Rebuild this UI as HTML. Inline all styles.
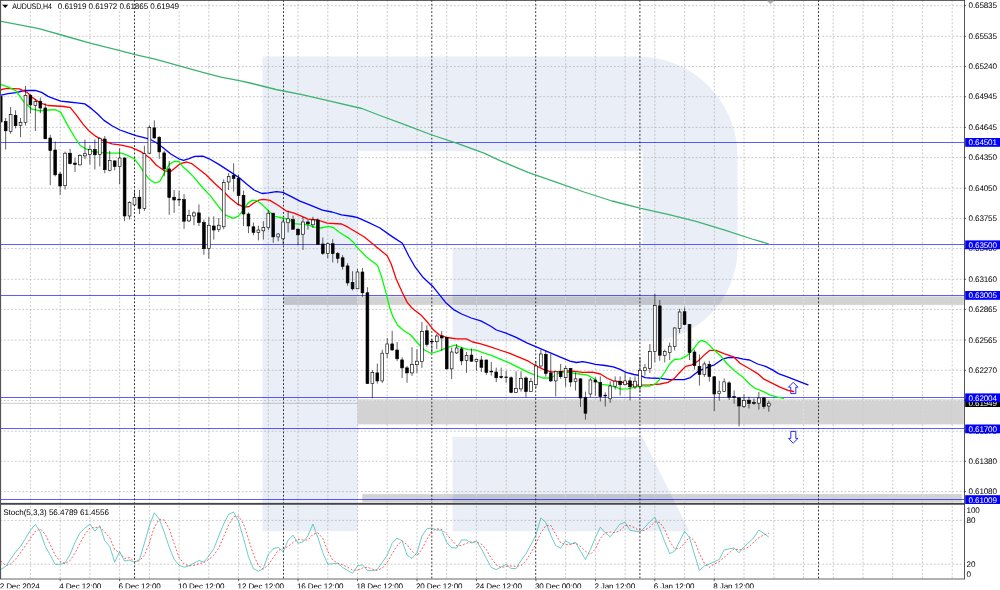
<!DOCTYPE html><html><head><meta charset="utf-8"><title>AUDUSD H4</title><style>
html,body{margin:0;padding:0;background:#fff;overflow:hidden}
svg{display:block;text-rendering:geometricPrecision;font-family:"Liberation Sans",sans-serif;font-size:8.1px;letter-spacing:-.15px}
.g{stroke:#acacac;stroke-width:.66;stroke-dasharray:1.86 1.86;fill:none}
.sp{stroke:#000;stroke-width:.8;stroke-dasharray:1.86 1.86;fill:none}
.hl{stroke:#0000ff;stroke-width:.64}
.w{stroke:#000;stroke-width:.62}
.bu{fill:#fff;stroke:#000;stroke-width:.62}
.be{fill:#000;stroke:#000;stroke-width:.62}
.ma{fill:none;stroke-width:1.3;stroke-linejoin:round;stroke-linecap:round}
.z{fill:#d3d3d3;mix-blend-mode:multiply}
.lb{fill:#0000ff}.lt{fill:#fff}
</style></head><body>
<svg width="1000" height="590" viewBox="0 0 1000 590">
<rect width="1000" height="590" fill="#fff"/>
<path fill="#eaeef6" d="M262.5,56.6H638A99.5,99.4 0 0 1 737.5,156V249A93.5,92.5 0 0 1 644,341.5H452.5V247.7H642.6V151.2H357.5V531.2H262.5Z"/>
<path fill="#eaeef6" d="M452.5,437H642.5L689.2,531.2H452.5Z"/>
<path class="g" d="M0,5.7H964.5M0,36.3H964.5M0,66.5H964.5M0,96.7H964.5M0,127.4H964.5M0,157.6H964.5M0,188.2H964.5M0,218.4H964.5M0,248.6H964.5M0,279.3H964.5M0,309.4H964.5M0,340.1H964.5M0,370.3H964.5M0,400.5H964.5M0,431.2H964.5M0,461.3H964.5M0,491.6H964.5M0,520.4H964.5M0,564.2H964.5M30.4,0V578.8M60.2,0V578.8M89.9,0V578.8M119.6,0V578.8M149.4,0V578.8M179.1,0V578.8M208.8,0V578.8M238.6,0V578.8M268.3,0V578.8M298.0,0V578.8M327.8,0V578.8M357.5,0V578.8M387.2,0V578.8M417.0,0V578.8M446.7,0V578.8M476.4,0V578.8M506.2,0V578.8M565.6,0V578.8M595.4,0V578.8M625.1,0V578.8M654.8,0V578.8M684.6,0V578.8M714.3,0V578.8M744.0,0V578.8M773.8,0V578.8M803.5,0V578.8M833.2,0V578.8M863.0,0V578.8M892.7,0V578.8M922.4,0V578.8M952.2,0V578.8"/>
<rect class="z" x="283.6" y="296.4" width="680.2" height="8.5"/>
<rect class="z" x="357.5" y="399.4" width="606.3" height="25"/>
<rect class="z" x="362.3" y="494.1" width="599.5" height="8.2"/>
<clipPath id="zc"><rect x="283.6" y="296.4" width="680.2" height="8.5"/><rect x="357.5" y="399.4" width="606.3" height="25"/><rect x="362.3" y="494.1" width="599.5" height="8.2"/></clipPath>
<path class="g" style="stroke:#ececec;stroke-width:.9" clip-path="url(#zc)" d="M0,5.7H964.5M0,36.3H964.5M0,66.5H964.5M0,96.7H964.5M0,127.4H964.5M0,157.6H964.5M0,188.2H964.5M0,218.4H964.5M0,248.6H964.5M0,279.3H964.5M0,309.4H964.5M0,340.1H964.5M0,370.3H964.5M0,400.5H964.5M0,431.2H964.5M0,461.3H964.5M0,491.6H964.5M0,520.4H964.5M0,564.2H964.5M30.4,0V578.8M60.2,0V578.8M89.9,0V578.8M119.6,0V578.8M149.4,0V578.8M179.1,0V578.8M208.8,0V578.8M238.6,0V578.8M268.3,0V578.8M298.0,0V578.8M327.8,0V578.8M357.5,0V578.8M387.2,0V578.8M417.0,0V578.8M446.7,0V578.8M476.4,0V578.8M506.2,0V578.8M565.6,0V578.8M595.4,0V578.8M625.1,0V578.8M654.8,0V578.8M684.6,0V578.8M714.3,0V578.8M744.0,0V578.8M773.8,0V578.8M803.5,0V578.8M833.2,0V578.8M863.0,0V578.8M892.7,0V578.8M922.4,0V578.8M952.2,0V578.8"/>
<rect x="1.2" y="0.8" width="178.6" height="9.9" fill="#fff"/>
<path class="sp" d="M134.5,0V578.8"/>
<path class="sp" d="M283.5,0V578.8"/>
<path class="sp" d="M431.8,0V578.8"/>
<path class="sp" d="M535.7,0V578.8"/>
<path class="sp" d="M639.9,0V578.8"/>
<path class="sp" d="M818.5,0V578.8"/>
<path d="M0,403.3H357.5" stroke="#c0c0c0" stroke-width=".8" style="mix-blend-mode:multiply"/>
<path class="hl" d="M0,142.5H964.5"/>
<path class="hl" d="M0,244.5H964.5"/>
<path class="hl" d="M0,295.5H964.5"/>
<path class="hl" d="M0,397.5H964.5"/>
<path class="hl" d="M0,428.5H964.5"/>
<path class="hl" d="M0,499.5H964.5"/>
<path d="M793.2,382.3L798,387.2H795.8V393.6H790.8V387.2H788.5Z" fill="#fff" stroke="#2020ff" stroke-width=".95"/>
<path d="M793.2,443.2L798,438.4H795.8V431.4H790.8V438.4H788.5Z" fill="#fff" stroke="#2020ff" stroke-width=".95"/>
<path class="ma" stroke="#3cb371" stroke-width="1.5" d="M0.0,21.2 L39.0,28.7 L65.0,36.0 L91.0,43.3 L117.0,49.8 L135.2,54.7 L156.0,59.4 L182.0,66.7 L202.8,72.4 L221.0,77.1 L239.2,80.7 L250.0,83.0 L276.0,89.5 L302.0,94.7 L328.0,100.7 L361.8,108.5 L380.0,115.5 L406.0,125.1 L432.0,135.0 L458.0,143.6 L484.0,153.2 L500.0,160.6 L528.0,172.4 L556.0,182.2 L584.0,192.0 L612.0,201.0 L640.0,208.2 L668.0,214.4 L696.0,221.4 L724.0,229.8 L752.0,239.0 L768.3,243.8"/>
<path class="ma" stroke="#0000ff" d="M0.0,95.3 L8.0,93.7 L16.0,92.7 L24.0,90.5 L35.2,90.3 L41.6,92.4 L48.0,96.4 L54.4,98.8 L60.8,101.2 L68.8,102.0 L76.8,102.8 L84.8,103.9 L91.2,108.4 L97.6,114.0 L104.0,120.4 L112.0,125.7 L120.0,130.0 L128.0,132.9 L136.0,135.6 L144.0,137.7 L150.0,139.3 L156.4,142.8 L162.8,147.6 L170.8,154.0 L178.8,158.8 L183.6,160.4 L188.4,158.8 L194.8,156.4 L202.8,156.1 L209.2,158.8 L218.8,164.4 L230.0,171.6 L239.6,178.0 L246.0,183.6 L254.0,190.0 L262.0,193.5 L268.4,192.9 L276.4,191.6 L282.8,192.4 L290.8,196.4 L300.0,201.1 L309.6,204.8 L322.4,210.1 L332.0,212.0 L341.6,214.9 L352.8,216.5 L357.6,217.6 L367.2,221.9 L380.0,228.0 L389.6,234.9 L396.0,239.1 L402.4,243.2 L408.8,256.0 L415.2,267.2 L423.2,277.6 L432.8,286.4 L439.2,294.4 L445.6,302.4 L453.6,309.6 L461.6,314.0 L471.2,318.0 L480.8,320.9 L490.4,326.0 L496.4,330.0 L506.0,333.2 L515.6,337.2 L526.8,342.8 L538.0,347.6 L549.2,352.4 L560.4,357.2 L570.0,361.2 L576.4,362.5 L582.8,361.7 L589.2,362.8 L595.6,364.4 L605.2,365.5 L613.2,366.8 L619.6,369.2 L626.0,372.4 L634.0,374.5 L640.4,375.6 L645.2,377.7 L650.0,378.0 L660.0,378.4 L669.6,379.7 L684.0,379.7 L690.4,377.6 L698.4,371.2 L708.0,367.2 L714.4,364.8 L722.4,359.2 L728.8,357.3 L736.8,357.6 L743.2,359.2 L749.6,360.0 L757.6,364.0 L765.6,366.4 L772.0,369.6 L778.4,373.6 L788.0,377.1 L797.6,380.8 L808.0,384.8"/>
<path class="ma" stroke="#ff0000" d="M0.0,90.0 L6.4,88.4 L19.2,88.9 L27.2,92.4 L32.0,97.2 L40.0,102.8 L48.0,105.5 L56.0,106.0 L64.0,106.5 L70.4,107.6 L76.8,115.6 L83.2,124.4 L89.6,131.6 L96.0,136.4 L104.0,141.2 L112.0,143.9 L121.6,145.2 L131.2,147.3 L140.8,151.6 L148.8,157.2 L150.0,158.0 L156.4,165.2 L164.4,170.8 L170.8,171.6 L175.6,167.6 L180.4,163.6 L186.8,162.0 L191.6,163.6 L198.0,168.4 L206.0,174.8 L214.0,182.8 L222.0,190.0 L230.0,198.0 L238.0,204.4 L244.4,207.1 L249.2,206.5 L254.0,202.8 L258.8,200.1 L263.6,199.3 L270.0,200.4 L278.0,205.2 L286.0,210.8 L294.0,213.2 L302.0,216.4 L308.0,219.2 L317.6,220.0 L327.2,223.2 L341.6,224.0 L348.0,227.2 L356.0,232.0 L364.0,236.8 L368.0,240.0 L376.8,247.2 L387.2,255.7 L391.2,264.0 L396.0,278.4 L402.4,292.8 L407.2,302.4 L412.0,308.0 L414.4,310.0 L421.6,315.6 L428.0,322.8 L432.8,329.2 L439.2,334.8 L447.2,337.5 L456.8,338.8 L466.4,338.8 L472.8,342.0 L480.8,343.9 L490.4,346.8 L499.6,350.0 L509.2,353.2 L518.8,357.2 L528.4,361.2 L536.4,366.0 L542.8,369.2 L550.8,371.9 L558.8,371.9 L566.8,370.8 L574.8,371.3 L582.8,372.4 L592.4,372.1 L600.4,374.0 L606.8,378.0 L613.2,380.9 L621.2,382.0 L627.6,383.6 L634.0,385.2 L640.4,385.2 L650.0,384.9 L660.0,384.0 L668.0,382.4 L674.4,378.4 L680.8,371.2 L685.6,366.4 L692.0,364.8 L698.4,360.8 L704.8,354.4 L709.6,350.4 L716.0,350.4 L724.0,353.6 L733.6,356.8 L740.0,363.2 L749.6,368.8 L757.6,373.6 L764.0,379.2 L772.0,383.2 L780.0,387.2 L788.0,390.4 L793.6,391.5"/>
<path class="ma" stroke="#00ff00" d="M0.0,84.4 L8.0,86.8 L16.0,90.8 L24.0,102.0 L32.0,109.2 L40.0,110.8 L48.0,110.0 L56.0,109.7 L60.8,112.4 L67.2,124.4 L70.4,130.0 L75.2,138.0 L80.0,145.2 L86.4,149.2 L92.8,151.6 L102.4,152.7 L112.0,153.2 L121.6,153.2 L128.0,155.6 L134.4,158.8 L139.2,165.2 L144.0,172.4 L148.8,178.8 L154.8,183.0 L159.6,181.6 L164.4,173.2 L169.2,164.4 L174.0,161.5 L178.8,161.5 L183.6,167.6 L186.8,170.0 L193.2,176.4 L201.2,186.0 L210.8,196.4 L218.8,206.8 L225.2,214.8 L233.2,218.3 L238.0,216.4 L242.8,210.8 L247.6,203.6 L252.4,200.1 L257.2,200.7 L262.0,204.4 L268.4,210.8 L274.8,216.4 L282.8,218.0 L289.2,219.6 L294.0,223.6 L302.0,224.4 L308.0,224.8 L314.4,227.2 L320.8,228.0 L328.8,226.4 L333.6,227.7 L340.0,232.8 L348.0,237.6 L354.4,243.2 L356.0,246.4 L367.2,257.6 L377.6,265.6 L381.6,276.8 L386.4,294.4 L389.6,307.2 L392.8,316.4 L397.6,325.2 L404.0,330.8 L410.4,334.8 L416.8,342.0 L423.2,349.2 L431.2,353.5 L439.2,350.8 L447.2,347.6 L455.2,345.2 L461.6,347.6 L468.0,349.7 L476.0,350.0 L484.0,353.2 L492.0,355.6 L499.6,358.8 L509.2,362.8 L518.8,367.6 L528.4,372.4 L536.4,375.6 L542.8,378.0 L550.8,378.0 L557.2,374.0 L563.6,371.9 L571.6,372.9 L579.6,374.0 L587.6,375.1 L594.0,378.8 L600.4,384.4 L608.4,385.2 L614.8,386.8 L621.2,389.2 L627.6,388.9 L634.0,387.3 L642.0,386.0 L650.0,386.0 L655.0,384.0 L660.0,379.2 L664.8,372.0 L669.6,364.0 L674.4,359.5 L680.8,358.9 L687.2,355.7 L693.6,348.8 L698.4,342.4 L701.9,340.3 L706.4,342.4 L712.8,348.8 L720.8,356.0 L727.2,364.0 L735.2,371.2 L743.2,377.6 L749.6,384.0 L754.4,388.0 L762.4,391.2 L770.4,395.2 L778.4,397.3 L783.5,398.4"/>
<path class="w" d="M0.70,96.3V122.0"/>
<rect class="be" x="-0.70" y="96.3" width="2.8" height="25.7"/>
<path class="w" d="M5.66,118.0V149.6"/>
<rect class="be" x="4.26" y="121.5" width="2.8" height="9.3"/>
<path class="w" d="M10.61,107.0V133.7"/>
<rect class="bu" x="9.21" y="114.5" width="2.8" height="17.1"/>
<path class="w" d="M15.57,110.3V128.4"/>
<rect class="be" x="14.17" y="115.3" width="2.8" height="10.4"/>
<path class="w" d="M20.52,118.0V137.2"/>
<rect class="bu" x="19.12" y="122.5" width="2.8" height="3.0"/>
<path class="w" d="M25.48,86.0V125.5"/>
<rect class="bu" x="24.08" y="95.3" width="2.8" height="27.2"/>
<path class="w" d="M30.43,94.0V113.5"/>
<rect class="be" x="29.03" y="95.3" width="2.8" height="9.6"/>
<path class="w" d="M35.39,98.8V131.0"/>
<rect class="bu" x="33.99" y="101.5" width="2.8" height="4.0"/>
<path class="w" d="M40.34,97.5V113.2"/>
<rect class="be" x="38.94" y="101.2" width="2.8" height="6.8"/>
<path class="w" d="M45.30,103.3V139.0"/>
<rect class="be" x="43.90" y="108.0" width="2.8" height="30.8"/>
<path class="w" d="M50.26,134.8V185.2"/>
<rect class="be" x="48.86" y="138.0" width="2.8" height="12.5"/>
<path class="w" d="M55.21,141.5V176.4"/>
<rect class="be" x="53.81" y="150.0" width="2.8" height="24.8"/>
<path class="w" d="M60.17,171.9V194.8"/>
<rect class="be" x="58.77" y="174.0" width="2.8" height="12.0"/>
<path class="w" d="M65.12,151.6V189.5"/>
<rect class="bu" x="63.72" y="153.2" width="2.8" height="32.5"/>
<path class="w" d="M70.08,148.9V164.4"/>
<rect class="be" x="68.68" y="153.2" width="2.8" height="10.4"/>
<path class="w" d="M75.03,158.0V172.0"/>
<rect class="be" x="73.63" y="163.1" width="2.8" height="1.3"/>
<path class="w" d="M79.99,154.3V165.5"/>
<rect class="bu" x="78.59" y="155.6" width="2.8" height="9.3"/>
<path class="w" d="M84.94,139.6V159.1"/>
<rect class="bu" x="83.54" y="153.7" width="2.8" height="2.2"/>
<path class="w" d="M89.90,145.5V164.4"/>
<rect class="bu" x="88.50" y="149.5" width="2.8" height="4.8"/>
<path class="w" d="M94.85,139.3V169.5"/>
<rect class="be" x="93.45" y="149.5" width="2.8" height="5.3"/>
<path class="w" d="M99.81,137.2V166.5"/>
<rect class="bu" x="98.41" y="138.3" width="2.8" height="16.0"/>
<path class="w" d="M104.77,136.0V173.2"/>
<rect class="be" x="103.37" y="139.0" width="2.8" height="30.7"/>
<path class="w" d="M109.72,150.8V171.3"/>
<rect class="bu" x="108.32" y="160.4" width="2.8" height="9.9"/>
<path class="w" d="M114.68,160.4V170.3"/>
<rect class="be" x="113.28" y="160.9" width="2.8" height="5.6"/>
<path class="w" d="M119.63,148.0V184.4"/>
<rect class="bu" x="118.23" y="158.0" width="2.8" height="8.5"/>
<path class="w" d="M124.59,157.5V221.2"/>
<rect class="be" x="123.19" y="158.0" width="2.8" height="58.0"/>
<path class="w" d="M129.54,201.2V219.6"/>
<rect class="bu" x="128.14" y="202.3" width="2.8" height="13.7"/>
<path class="w" d="M134.50,190.5V206.0"/>
<rect class="bu" x="133.10" y="197.5" width="2.8" height="7.4"/>
<path class="w" d="M139.45,190.0V214.0"/>
<rect class="be" x="138.05" y="197.2" width="2.8" height="11.2"/>
<path class="w" d="M144.41,145.7V210.8"/>
<rect class="bu" x="143.01" y="153.7" width="2.8" height="54.7"/>
<path class="w" d="M149.36,125.2V154.0"/>
<rect class="bu" x="147.96" y="127.6" width="2.8" height="25.6"/>
<path class="w" d="M154.32,120.4V138.8"/>
<rect class="be" x="152.92" y="127.9" width="2.8" height="10.1"/>
<path class="w" d="M159.28,136.4V158.8"/>
<rect class="be" x="157.88" y="137.2" width="2.8" height="14.7"/>
<path class="w" d="M164.23,150.8V176.4"/>
<rect class="be" x="162.83" y="152.9" width="2.8" height="16.0"/>
<path class="w" d="M169.19,160.9V214.8"/>
<rect class="be" x="167.79" y="168.9" width="2.8" height="28.6"/>
<path class="w" d="M174.14,190.0V212.9"/>
<rect class="be" x="172.74" y="197.2" width="2.8" height="2.8"/>
<path class="w" d="M179.10,190.8V206.0"/>
<rect class="be" x="177.70" y="199.2" width="2.8" height="0.8"/>
<path class="w" d="M184.05,194.0V228.9"/>
<rect class="be" x="182.65" y="199.6" width="2.8" height="21.6"/>
<path class="w" d="M189.01,209.7V222.0"/>
<rect class="bu" x="187.61" y="215.6" width="2.8" height="5.3"/>
<path class="w" d="M193.96,211.3V225.2"/>
<rect class="bu" x="192.56" y="212.9" width="2.8" height="3.1"/>
<path class="w" d="M198.92,204.4V226.0"/>
<rect class="be" x="197.52" y="212.9" width="2.8" height="9.6"/>
<path class="w" d="M203.88,219.6V254.8"/>
<rect class="be" x="202.48" y="222.5" width="2.8" height="26.2"/>
<path class="w" d="M208.83,217.2V258.8"/>
<rect class="bu" x="207.43" y="225.5" width="2.8" height="22.9"/>
<path class="w" d="M213.79,216.4V239.6"/>
<rect class="be" x="212.39" y="226.0" width="2.8" height="4.0"/>
<path class="w" d="M218.74,218.0V232.0"/>
<rect class="bu" x="217.34" y="225.2" width="2.8" height="4.3"/>
<path class="w" d="M223.70,179.3V229.2"/>
<rect class="bu" x="222.30" y="182.5" width="2.8" height="44.3"/>
<path class="w" d="M228.65,173.2V190.0"/>
<rect class="bu" x="227.25" y="176.4" width="2.8" height="5.6"/>
<path class="w" d="M233.61,163.3V191.6"/>
<rect class="be" x="232.21" y="175.6" width="2.8" height="2.9"/>
<path class="w" d="M238.56,174.5V205.2"/>
<rect class="be" x="237.16" y="178.3" width="2.8" height="17.3"/>
<path class="w" d="M243.52,190.5V226.0"/>
<rect class="be" x="242.12" y="195.3" width="2.8" height="18.7"/>
<path class="w" d="M248.47,212.4V233.2"/>
<rect class="be" x="247.07" y="214.0" width="2.8" height="12.0"/>
<path class="w" d="M253.43,222.5V235.3"/>
<rect class="be" x="252.03" y="226.8" width="2.8" height="5.6"/>
<path class="w" d="M258.39,225.7V240.4"/>
<rect class="bu" x="256.99" y="230.0" width="2.8" height="2.4"/>
<path class="w" d="M263.34,221.2V239.6"/>
<rect class="bu" x="261.94" y="227.6" width="2.8" height="3.2"/>
<path class="w" d="M268.30,210.0V230.0"/>
<rect class="bu" x="266.90" y="213.2" width="2.8" height="14.4"/>
<path class="w" d="M273.25,212.9V242.8"/>
<rect class="be" x="271.85" y="213.2" width="2.8" height="23.7"/>
<path class="w" d="M278.21,233.2V241.2"/>
<rect class="bu" x="276.81" y="234.0" width="2.8" height="2.9"/>
<path class="w" d="M283.16,218.0V244.4"/>
<rect class="bu" x="281.76" y="222.0" width="2.8" height="16.8"/>
<path class="w" d="M288.12,210.8V232.4"/>
<rect class="bu" x="286.72" y="218.8" width="2.8" height="4.0"/>
<path class="w" d="M293.07,215.6V230.0"/>
<rect class="be" x="291.67" y="219.6" width="2.8" height="9.6"/>
<path class="w" d="M298.03,228.4V245.2"/>
<rect class="be" x="296.63" y="229.2" width="2.8" height="5.6"/>
<path class="w" d="M302.99,217.0V250.0"/>
<rect class="bu" x="301.59" y="222.0" width="2.8" height="12.2"/>
<path class="w" d="M307.94,220.0V229.6"/>
<rect class="be" x="306.54" y="222.0" width="2.8" height="1.8"/>
<path class="w" d="M312.90,216.8V228.0"/>
<rect class="bu" x="311.50" y="220.0" width="2.8" height="4.8"/>
<path class="w" d="M317.85,218.4V244.5"/>
<rect class="be" x="316.45" y="220.0" width="2.8" height="24.5"/>
<path class="w" d="M322.81,237.6V254.9"/>
<rect class="be" x="321.41" y="244.0" width="2.8" height="9.3"/>
<path class="w" d="M327.76,242.4V258.4"/>
<rect class="bu" x="326.36" y="243.7" width="2.8" height="9.9"/>
<path class="w" d="M332.72,239.2V262.4"/>
<rect class="be" x="331.32" y="243.7" width="2.8" height="9.9"/>
<path class="w" d="M337.67,252.0V263.2"/>
<rect class="be" x="336.27" y="253.6" width="2.8" height="4.8"/>
<path class="w" d="M342.63,255.2V269.6"/>
<rect class="be" x="341.23" y="257.8" width="2.8" height="8.6"/>
<path class="w" d="M347.58,263.2V285.6"/>
<rect class="be" x="346.19" y="265.9" width="2.8" height="17.0"/>
<path class="w" d="M352.54,271.2V290.4"/>
<rect class="be" x="351.14" y="282.4" width="2.8" height="6.4"/>
<path class="w" d="M357.50,268.8V288.8"/>
<rect class="bu" x="356.10" y="272.0" width="2.8" height="16.8"/>
<path class="w" d="M362.45,268.0V296.8"/>
<rect class="be" x="361.05" y="272.0" width="2.8" height="20.8"/>
<path class="w" d="M367.41,287.2V383.6"/>
<rect class="be" x="366.01" y="292.8" width="2.8" height="90.8"/>
<path class="w" d="M372.36,370.0V398.3"/>
<rect class="bu" x="370.96" y="372.4" width="2.8" height="11.2"/>
<path class="w" d="M377.32,363.6V383.6"/>
<rect class="be" x="375.92" y="372.9" width="2.8" height="8.0"/>
<path class="w" d="M382.27,349.7V382.8"/>
<rect class="bu" x="380.87" y="353.2" width="2.8" height="27.7"/>
<path class="w" d="M387.23,338.0V358.0"/>
<rect class="bu" x="385.83" y="344.0" width="2.8" height="9.5"/>
<path class="w" d="M392.18,330.8V350.8"/>
<rect class="be" x="390.78" y="343.9" width="2.8" height="6.1"/>
<path class="w" d="M397.14,342.0V360.9"/>
<rect class="be" x="395.74" y="350.0" width="2.8" height="8.8"/>
<path class="w" d="M402.10,357.2V378.0"/>
<rect class="be" x="400.70" y="359.9" width="2.8" height="8.0"/>
<path class="w" d="M407.05,366.0V382.8"/>
<rect class="be" x="405.65" y="367.9" width="2.8" height="5.0"/>
<path class="w" d="M412.01,347.1V375.9"/>
<rect class="bu" x="410.61" y="364.4" width="2.8" height="8.5"/>
<path class="w" d="M416.96,349.2V372.9"/>
<rect class="bu" x="415.56" y="361.2" width="2.8" height="3.5"/>
<path class="w" d="M421.92,322.0V367.9"/>
<rect class="bu" x="420.52" y="331.6" width="2.8" height="29.9"/>
<path class="w" d="M426.87,325.2V346.8"/>
<rect class="be" x="425.47" y="330.8" width="2.8" height="13.6"/>
<path class="w" d="M431.83,338.8V352.9"/>
<rect class="be" x="430.43" y="341.2" width="2.8" height="0.7"/>
<path class="w" d="M436.78,334.0V349.2"/>
<rect class="bu" x="435.38" y="336.0" width="2.8" height="5.7"/>
<path class="w" d="M441.74,331.1V350.8"/>
<rect class="be" x="440.34" y="336.0" width="2.8" height="2.0"/>
<path class="w" d="M446.69,337.2V369.2"/>
<rect class="be" x="445.30" y="337.5" width="2.8" height="31.4"/>
<path class="w" d="M451.65,347.6V379.1"/>
<rect class="bu" x="450.25" y="352.0" width="2.8" height="16.9"/>
<path class="w" d="M456.61,344.0V354.0"/>
<rect class="bu" x="455.21" y="348.0" width="2.8" height="4.9"/>
<path class="w" d="M461.56,346.8V365.2"/>
<rect class="be" x="460.16" y="348.9" width="2.8" height="12.0"/>
<path class="w" d="M466.52,351.9V372.9"/>
<rect class="bu" x="465.12" y="355.3" width="2.8" height="5.1"/>
<path class="w" d="M471.47,348.4V362.0"/>
<rect class="be" x="470.07" y="355.1" width="2.8" height="6.1"/>
<path class="w" d="M476.43,358.8V370.8"/>
<rect class="bu" x="475.03" y="359.3" width="2.8" height="2.2"/>
<path class="w" d="M481.38,356.0V372.0"/>
<rect class="be" x="479.98" y="360.0" width="2.8" height="7.3"/>
<path class="w" d="M486.34,359.6V374.8"/>
<rect class="be" x="484.94" y="360.0" width="2.8" height="12.4"/>
<path class="w" d="M491.29,362.0V375.6"/>
<rect class="be" x="489.89" y="371.2" width="2.8" height="0.7"/>
<path class="w" d="M496.25,367.6V382.2"/>
<rect class="be" x="494.85" y="372.0" width="2.8" height="5.8"/>
<path class="w" d="M501.21,367.6V378.8"/>
<rect class="be" x="499.81" y="376.4" width="2.8" height="1.1"/>
<path class="w" d="M506.16,370.8V382.8"/>
<rect class="be" x="504.76" y="377.0" width="2.8" height="0.6"/>
<path class="w" d="M511.12,376.4V393.2"/>
<rect class="be" x="509.72" y="377.7" width="2.8" height="14.7"/>
<path class="w" d="M516.07,371.3V392.7"/>
<rect class="bu" x="514.67" y="388.4" width="2.8" height="4.0"/>
<path class="w" d="M521.03,371.3V391.6"/>
<rect class="bu" x="519.63" y="378.3" width="2.8" height="10.6"/>
<path class="w" d="M525.98,376.4V397.2"/>
<rect class="be" x="524.58" y="378.0" width="2.8" height="13.6"/>
<path class="w" d="M530.94,378.0V391.6"/>
<rect class="bu" x="529.54" y="381.5" width="2.8" height="10.1"/>
<path class="w" d="M535.89,361.2V388.4"/>
<rect class="bu" x="534.49" y="366.0" width="2.8" height="18.7"/>
<path class="w" d="M540.85,350.0V367.6"/>
<rect class="bu" x="539.45" y="354.0" width="2.8" height="12.0"/>
<path class="w" d="M545.81,350.8V376.7"/>
<rect class="be" x="544.41" y="354.3" width="2.8" height="19.2"/>
<path class="w" d="M550.76,354.0V382.0"/>
<rect class="be" x="549.36" y="372.9" width="2.8" height="8.0"/>
<path class="w" d="M555.72,370.8V396.4"/>
<rect class="bu" x="554.32" y="371.3" width="2.8" height="9.6"/>
<path class="w" d="M560.67,363.9V378.8"/>
<rect class="be" x="559.27" y="371.3" width="2.8" height="5.4"/>
<path class="w" d="M565.63,366.0V386.8"/>
<rect class="bu" x="564.23" y="368.4" width="2.8" height="9.3"/>
<path class="w" d="M570.58,368.0V386.8"/>
<rect class="be" x="569.18" y="368.4" width="2.8" height="13.6"/>
<path class="w" d="M575.54,372.4V390.5"/>
<rect class="bu" x="574.14" y="378.8" width="2.8" height="2.7"/>
<path class="w" d="M580.49,378.8V406.8"/>
<rect class="be" x="579.09" y="378.8" width="2.8" height="19.2"/>
<path class="w" d="M585.45,391.6V419.6"/>
<rect class="be" x="584.05" y="397.5" width="2.8" height="15.7"/>
<path class="w" d="M590.40,378.0V397.2"/>
<rect class="bu" x="589.00" y="380.0" width="2.8" height="14.0"/>
<path class="w" d="M595.36,377.2V395.6"/>
<rect class="be" x="593.96" y="380.0" width="2.8" height="2.0"/>
<path class="w" d="M600.32,376.4V401.5"/>
<rect class="be" x="598.92" y="382.5" width="2.8" height="13.9"/>
<path class="w" d="M605.27,392.4V406.5"/>
<rect class="be" x="603.87" y="395.2" width="2.8" height="0.8"/>
<path class="w" d="M610.23,381.5V402.8"/>
<rect class="bu" x="608.83" y="386.0" width="2.8" height="12.8"/>
<path class="w" d="M615.18,376.4V389.5"/>
<rect class="bu" x="613.78" y="381.2" width="2.8" height="5.1"/>
<path class="w" d="M620.14,376.4V395.6"/>
<rect class="be" x="618.74" y="381.2" width="2.8" height="3.5"/>
<path class="w" d="M625.09,373.2V385.7"/>
<rect class="bu" x="623.69" y="380.9" width="2.8" height="3.8"/>
<path class="w" d="M630.05,377.2V400.4"/>
<rect class="be" x="628.65" y="380.9" width="2.8" height="5.9"/>
<path class="w" d="M635.00,376.4V389.2"/>
<rect class="bu" x="633.60" y="381.2" width="2.8" height="5.6"/>
<path class="w" d="M639.96,357.2V392.4"/>
<rect class="bu" x="638.56" y="370.3" width="2.8" height="16.0"/>
<path class="w" d="M644.91,364.0V375.6"/>
<rect class="bu" x="643.51" y="367.8" width="2.8" height="2.6"/>
<path class="w" d="M649.87,344.0V373.1"/>
<rect class="bu" x="648.47" y="351.5" width="2.8" height="16.8"/>
<path class="w" d="M654.83,293.6V362.4"/>
<rect class="bu" x="653.43" y="305.6" width="2.8" height="45.9"/>
<path class="w" d="M659.78,300.0V360.8"/>
<rect class="be" x="658.38" y="305.9" width="2.8" height="49.3"/>
<path class="w" d="M664.74,349.6V362.4"/>
<rect class="bu" x="663.34" y="351.4" width="2.8" height="4.1"/>
<path class="w" d="M669.69,342.6V360.0"/>
<rect class="bu" x="668.29" y="346.2" width="2.8" height="6.4"/>
<path class="w" d="M674.65,327.2V350.4"/>
<rect class="bu" x="673.25" y="328.0" width="2.8" height="18.4"/>
<path class="w" d="M679.60,308.8V333.1"/>
<rect class="bu" x="678.20" y="312.0" width="2.8" height="16.3"/>
<path class="w" d="M684.56,307.5V325.1"/>
<rect class="be" x="683.16" y="311.7" width="2.8" height="12.8"/>
<path class="w" d="M689.51,324.0V360.0"/>
<rect class="be" x="688.11" y="324.5" width="2.8" height="28.1"/>
<path class="w" d="M694.47,349.6V369.6"/>
<rect class="be" x="693.07" y="352.0" width="2.8" height="13.6"/>
<path class="w" d="M699.43,354.4V385.6"/>
<rect class="be" x="698.03" y="366.4" width="2.8" height="8.0"/>
<path class="w" d="M704.38,361.6V376.8"/>
<rect class="bu" x="702.98" y="364.0" width="2.8" height="10.4"/>
<path class="w" d="M709.34,360.8V381.6"/>
<rect class="be" x="707.94" y="364.3" width="2.8" height="12.2"/>
<path class="w" d="M714.29,376.0V411.2"/>
<rect class="be" x="712.89" y="376.8" width="2.8" height="17.2"/>
<path class="w" d="M719.25,380.8V400.8"/>
<rect class="bu" x="717.85" y="391.2" width="2.8" height="2.4"/>
<path class="w" d="M724.20,378.4V392.0"/>
<rect class="bu" x="722.80" y="381.9" width="2.8" height="9.6"/>
<path class="w" d="M729.16,381.3V400.0"/>
<rect class="be" x="727.76" y="382.9" width="2.8" height="14.4"/>
<path class="w" d="M734.11,390.4V403.7"/>
<rect class="be" x="732.71" y="396.6" width="2.8" height="0.8"/>
<path class="w" d="M739.07,397.3V426.4"/>
<rect class="be" x="737.67" y="397.9" width="2.8" height="8.1"/>
<path class="w" d="M744.02,394.4V408.0"/>
<rect class="bu" x="742.62" y="400.5" width="2.8" height="5.9"/>
<path class="w" d="M748.98,396.8V408.5"/>
<rect class="be" x="747.58" y="400.2" width="2.8" height="3.3"/>
<path class="w" d="M753.94,398.4V404.8"/>
<rect class="be" x="752.54" y="402.6" width="2.8" height="0.7"/>
<path class="w" d="M758.89,392.0V409.6"/>
<rect class="bu" x="757.49" y="397.9" width="2.8" height="5.3"/>
<path class="w" d="M763.85,396.8V408.8"/>
<rect class="be" x="762.45" y="397.9" width="2.8" height="8.5"/>
<path class="w" d="M768.80,400.8V411.7"/>
<rect class="bu" x="767.40" y="403.2" width="2.8" height="2.8"/>
<path fill="none" stroke="#ff0000" stroke-width=".66" stroke-dasharray="1.86 1.86" d="M0.7,560.8 L5.7,565.6 L10.6,564.0 L15.6,559.2 L20.5,552.8 L25.5,545.6 L30.4,538.4 L35.4,531.2 L40.3,528.8 L45.3,534.4 L50.3,544.8 L55.2,555.2 L60.2,561.6 L65.1,563.7 L70.1,560.5 L75.0,553.1 L80.0,543.2 L84.9,534.4 L89.9,528.0 L94.9,527.5 L99.8,527.2 L104.8,532.0 L109.7,537.6 L114.7,549.6 L119.6,552.8 L124.6,558.4 L129.5,557.6 L134.5,561.6 L139.5,560.8 L144.4,555.2 L149.4,542.9 L154.3,527.2 L159.3,519.2 L164.2,520.0 L169.2,528.8 L174.1,543.2 L179.1,557.6 L184.1,564.0 L189.0,565.9 L194.0,565.3 L198.9,563.7 L203.9,562.4 L208.8,559.5 L213.8,555.2 L218.7,548.0 L223.7,536.8 L228.7,524.8 L233.6,516.8 L238.6,516.0 L243.5,524.0 L248.5,539.2 L253.4,554.4 L258.4,565.6 L263.3,569.1 L268.3,564.8 L273.3,557.6 L278.2,550.4 L283.2,548.8 L288.1,546.4 L293.1,542.4 L298.0,539.2 L303.0,540.0 L307.9,540.0 L312.9,534.4 L317.9,532.8 L322.8,538.4 L327.8,551.2 L332.7,560.0 L337.7,563.2 L342.6,564.8 L347.6,567.2 L352.5,570.1 L357.5,570.1 L362.5,568.0 L367.4,567.2 L372.4,569.1 L377.3,570.4 L382.3,568.0 L387.2,562.4 L392.2,553.6 L397.1,545.6 L402.1,540.8 L407.1,544.8 L412.0,551.2 L417.0,555.7 L421.9,549.3 L426.9,539.2 L431.8,531.2 L436.8,528.8 L441.7,529.3 L446.7,534.4 L451.7,540.0 L456.6,545.6 L461.6,545.6 L466.5,543.2 L471.5,541.9 L476.4,541.9 L481.4,544.0 L486.3,549.6 L491.3,558.4 L496.2,564.8 L501.2,567.5 L506.2,566.4 L511.1,565.9 L516.1,566.4 L521.0,565.6 L526.0,560.8 L530.9,552.8 L535.9,544.0 L540.8,532.8 L545.8,525.6 L550.8,525.3 L555.7,534.4 L560.7,542.9 L565.6,544.8 L570.6,544.5 L575.5,542.9 L580.5,546.4 L585.4,551.2 L590.4,554.4 L595.4,548.8 L600.3,538.4 L605.3,532.8 L610.2,532.0 L615.2,532.8 L620.1,530.4 L625.1,525.6 L630.0,525.6 L635.0,528.0 L640.0,531.2 L644.9,530.1 L649.9,526.9 L654.8,521.9 L659.8,522.4 L664.7,529.3 L669.7,541.3 L674.6,548.8 L679.6,548.5 L684.6,543.2 L689.5,536.8 L694.5,540.8 L699.4,553.6 L704.4,563.2 L709.3,567.2 L714.3,564.0 L719.2,561.6 L724.2,557.3 L729.2,552.8 L734.1,548.8 L739.1,549.9 L744.0,549.3 L749.0,546.7 L753.9,542.1 L758.9,537.6 L763.8,534.9 L768.8,533.3"/>
<path fill="none" stroke="#20b2aa" stroke-width=".66" stroke-linejoin="round" d="M0.7,569.6 L5.7,566.4 L10.6,559.2 L15.6,552.0 L20.5,546.4 L25.5,538.4 L30.4,530.4 L35.4,524.3 L40.3,532.0 L45.3,546.4 L50.3,555.2 L55.2,564.3 L60.2,564.3 L65.1,562.7 L70.1,554.4 L75.0,542.4 L80.0,532.8 L84.9,528.0 L89.9,524.0 L94.9,531.2 L99.8,525.6 L104.8,540.8 L109.7,546.4 L114.7,562.1 L119.6,551.5 L124.6,561.1 L129.5,560.0 L134.5,562.4 L139.5,559.5 L144.4,543.2 L149.4,525.6 L154.3,512.8 L159.3,519.2 L164.2,532.0 L169.2,547.2 L174.1,559.2 L179.1,565.3 L184.1,567.2 L189.0,565.9 L194.0,563.2 L198.9,560.5 L203.9,562.1 L208.8,556.0 L213.8,548.8 L218.7,536.0 L223.7,524.0 L228.7,514.4 L233.6,512.0 L238.6,521.6 L243.5,538.4 L248.5,556.8 L253.4,568.8 L258.4,571.2 L263.3,568.5 L268.3,554.4 L273.3,548.8 L278.2,547.2 L283.2,552.0 L288.1,540.0 L293.1,535.2 L298.0,543.2 L303.0,541.9 L307.9,536.0 L312.9,524.0 L317.9,537.6 L322.8,552.8 L327.8,564.3 L332.7,563.7 L337.7,563.2 L342.6,567.5 L347.6,570.4 L352.5,573.3 L357.5,565.9 L362.5,564.8 L367.4,570.4 L372.4,570.7 L377.3,569.6 L382.3,562.4 L387.2,555.2 L392.2,543.2 L397.1,538.1 L402.1,540.8 L407.1,555.2 L412.0,558.4 L417.0,552.8 L421.9,536.0 L426.9,528.8 L431.8,528.0 L436.8,530.1 L441.7,530.1 L446.7,542.4 L451.7,547.7 L456.6,548.0 L461.6,540.0 L466.5,540.0 L471.5,543.2 L476.4,540.8 L481.4,548.8 L486.3,558.4 L491.3,567.5 L496.2,569.6 L501.2,566.9 L506.2,564.3 L511.1,568.5 L516.1,568.5 L521.0,560.5 L526.0,553.6 L530.9,544.8 L535.9,535.2 L540.8,517.9 L545.8,522.4 L550.8,535.2 L555.7,545.6 L560.7,548.3 L565.6,540.8 L570.6,544.0 L575.5,542.4 L580.5,551.2 L585.4,559.5 L590.4,549.6 L595.4,537.6 L600.3,527.2 L605.3,532.8 L610.2,536.8 L615.2,530.4 L620.1,524.0 L625.1,522.4 L630.0,530.1 L635.0,531.2 L640.0,532.0 L644.9,527.2 L649.9,521.6 L654.8,517.1 L659.8,528.8 L664.7,541.6 L669.7,553.6 L674.6,551.2 L679.6,541.3 L684.6,531.2 L689.5,537.6 L694.5,554.4 L699.4,570.4 L704.4,565.9 L709.3,564.0 L714.3,561.6 L719.2,559.5 L724.2,549.9 L729.2,548.8 L734.1,548.0 L739.1,552.8 L744.0,546.7 L749.0,542.4 L753.9,537.6 L758.9,530.1 L763.8,533.3 L768.8,537.1"/>
<rect x="0" y="502.9" width="964.5" height="1.85" fill="#454545"/>
<rect x="0" y="0" width="1.1" height="579" fill="#555"/>
<rect x="0" y="0" width="964.5" height=".8" fill="#3a3a3a"/>
<path d="M964.5,0V579.2" stroke="#2a2a2a" stroke-width=".8"/>
<path d="M0,579H964.9" stroke="#555" stroke-width=".9"/>
<path d="M766.7,0.8H774.2L770.45,4.2Z" fill="#b4b4b4"/>
<path d="M964.5,5.7h1.4" stroke="#222" stroke-width=".8"/>
<text x="968.6" y="8.1">0.65835</text>
<path d="M964.5,36.3h1.4" stroke="#222" stroke-width=".8"/>
<text x="968.6" y="38.7">0.65535</text>
<path d="M964.5,66.5h1.4" stroke="#222" stroke-width=".8"/>
<text x="968.6" y="68.9">0.65240</text>
<path d="M964.5,96.7h1.4" stroke="#222" stroke-width=".8"/>
<text x="968.6" y="99.1">0.64945</text>
<path d="M964.5,127.4h1.4" stroke="#222" stroke-width=".8"/>
<text x="968.6" y="129.8">0.64645</text>
<path d="M964.5,157.6h1.4" stroke="#222" stroke-width=".8"/>
<text x="968.6" y="160.0">0.64350</text>
<path d="M964.5,188.2h1.4" stroke="#222" stroke-width=".8"/>
<text x="968.6" y="190.6">0.64050</text>
<path d="M964.5,218.4h1.4" stroke="#222" stroke-width=".8"/>
<text x="968.6" y="220.8">0.63755</text>
<path d="M964.5,248.6h1.4" stroke="#222" stroke-width=".8"/>
<text x="968.6" y="251.0">0.63460</text>
<path d="M964.5,279.3h1.4" stroke="#222" stroke-width=".8"/>
<text x="968.6" y="281.7">0.63160</text>
<path d="M964.5,309.4h1.4" stroke="#222" stroke-width=".8"/>
<text x="968.6" y="311.8">0.62865</text>
<path d="M964.5,340.1h1.4" stroke="#222" stroke-width=".8"/>
<text x="968.6" y="342.5">0.62565</text>
<path d="M964.5,370.3h1.4" stroke="#222" stroke-width=".8"/>
<text x="968.6" y="372.7">0.62270</text>
<path d="M964.5,400.5h1.4" stroke="#222" stroke-width=".8"/>
<text x="968.6" y="402.9">0.61975</text>
<path d="M964.5,431.2h1.4" stroke="#222" stroke-width=".8"/>
<text x="968.6" y="433.6">0.61675</text>
<path d="M964.5,461.3h1.4" stroke="#222" stroke-width=".8"/>
<text x="968.6" y="463.7">0.61380</text>
<path d="M964.5,491.6h1.4" stroke="#222" stroke-width=".8"/>
<text x="968.6" y="494.0">0.61080</text>
<text x="966.6" y="513.2">100</text>
<text x="966.6" y="523.2">80</text>
<text x="966.6" y="567.2">20</text>
<text x="966.6" y="577.2">0</text>
<rect x="965.2" y="398.8" width="35" height="8.2" fill="#000"/><text class="lt" x="968.6" y="406.1">0.61949</text>
<rect class="lb" x="965.2" y="138.0" width="35" height="8.8"/><text class="lt" x="968.6" y="145.3">0.64501</text>
<rect class="lb" x="965.2" y="240.4" width="35" height="8.8"/><text class="lt" x="968.6" y="247.7">0.63500</text>
<rect class="lb" x="965.2" y="291.0" width="35" height="8.8"/><text class="lt" x="968.6" y="298.3">0.63005</text>
<rect class="lb" x="965.2" y="424.5" width="35" height="8.8"/><text class="lt" x="968.6" y="431.8">0.61700</text>
<rect class="lb" x="965.2" y="495.2" width="35" height="8.8"/><text class="lt" x="968.6" y="502.5">0.61009</text>
<rect class="lb" x="965.2" y="393.4" width="35" height="8.8"/><text class="lt" x="968.6" y="400.7">0.62004</text>
<path d="M2.2,4.8H8.2L5.2,7.9Z" fill="#000"/>
<text x="12.2" y="9.3" textLength="39.5" lengthAdjust="spacingAndGlyphs">AUDUSD,H4</text><text x="57.8" y="9.3" textLength="121" lengthAdjust="spacing">0.61919 0.61972 0.61865 0.61949</text>
<text x="3.2" y="514.9" textLength="105.6" lengthAdjust="spacing">Stoch(5,3,3) 56.4789 61.4556</text>
<clipPath id="cb"><rect x="0" y="579" width="1000" height="9.2"/></clipPath><g clip-path="url(#cb)">
<text x="-0.3" y="588.8">2 Dec 2024</text>
<path d="M60.2,578.8v2.4" stroke="#2a2a2a" stroke-width=".7"/>
<text x="59.2" y="588.8">4 Dec 12:00</text>
<path d="M119.6,578.8v2.4" stroke="#2a2a2a" stroke-width=".7"/>
<text x="118.6" y="588.8">6 Dec 12:00</text>
<path d="M179.1,578.8v2.4" stroke="#2a2a2a" stroke-width=".7"/>
<text x="178.1" y="588.8">10 Dec 12:00</text>
<path d="M238.6,578.8v2.4" stroke="#2a2a2a" stroke-width=".7"/>
<text x="237.6" y="588.8">12 Dec 12:00</text>
<path d="M298.0,578.8v2.4" stroke="#2a2a2a" stroke-width=".7"/>
<text x="297.0" y="588.8">16 Dec 12:00</text>
<path d="M357.5,578.8v2.4" stroke="#2a2a2a" stroke-width=".7"/>
<text x="356.5" y="588.8">18 Dec 12:00</text>
<path d="M417.0,578.8v2.4" stroke="#2a2a2a" stroke-width=".7"/>
<text x="416.0" y="588.8">20 Dec 12:00</text>
<path d="M476.4,578.8v2.4" stroke="#2a2a2a" stroke-width=".7"/>
<text x="475.4" y="588.8">24 Dec 12:00</text>
<path d="M535.9,578.8v2.4" stroke="#2a2a2a" stroke-width=".7"/>
<text x="534.9" y="588.8">30 Dec 00:00</text>
<path d="M595.4,578.8v2.4" stroke="#2a2a2a" stroke-width=".7"/>
<text x="594.4" y="588.8">2 Jan 12:00</text>
<path d="M654.8,578.8v2.4" stroke="#2a2a2a" stroke-width=".7"/>
<text x="653.8" y="588.8">6 Jan 12:00</text>
<path d="M714.3,578.8v2.4" stroke="#2a2a2a" stroke-width=".7"/>
<text x="713.3" y="588.8">8 Jan 12:00</text>
</g>
</svg></body></html>
